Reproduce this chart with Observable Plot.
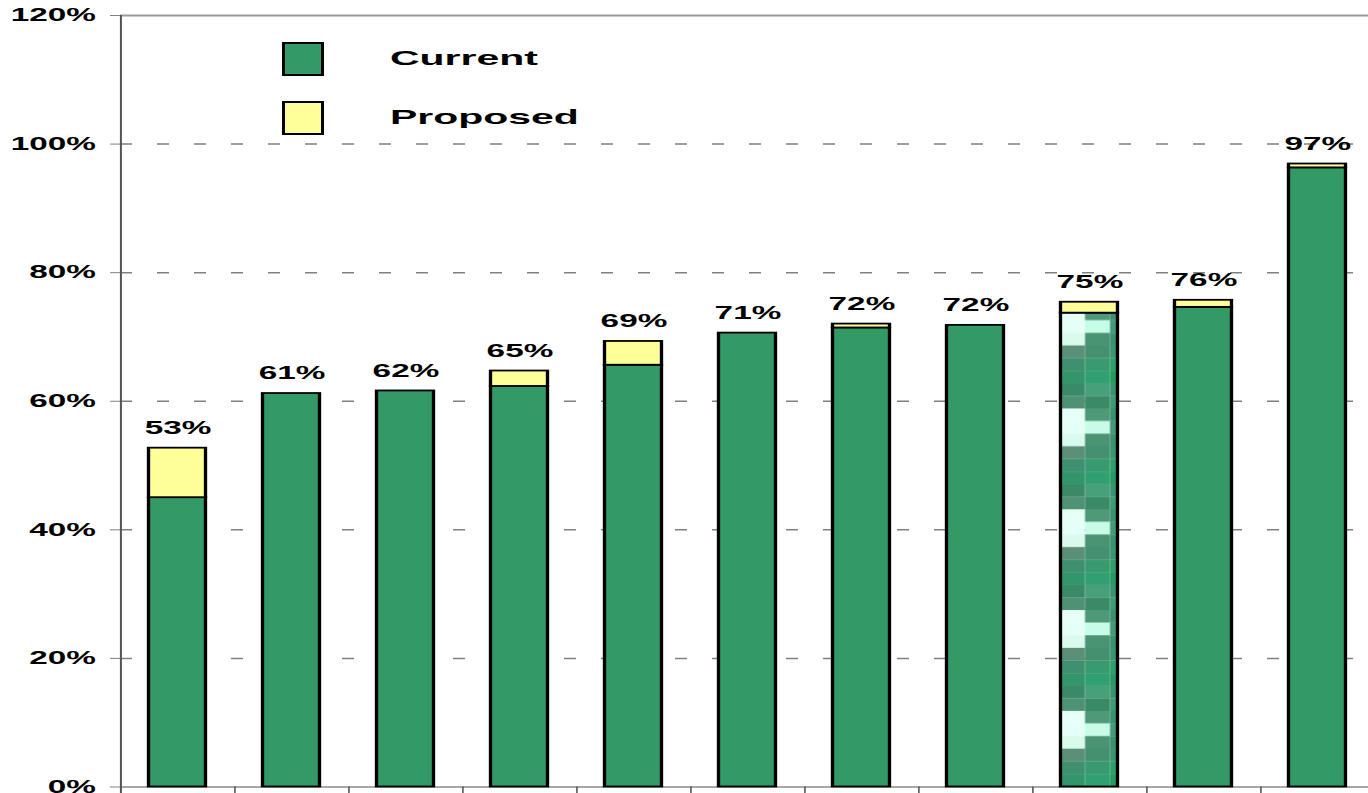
<!DOCTYPE html>
<html><head><meta charset="utf-8">
<script src="https://cdn.jsdelivr.net/npm/d3@7"></script>
<script src="https://cdn.jsdelivr.net/npm/@observablehq/plot@0.6"></script>
<style>
html,body{margin:0;padding:0;background:#fff;overflow:hidden;width:1368px;height:793px}
#wrap{position:relative;width:1380px;height:800px}
#wrap svg{display:block;transform-origin:0 0}
.leg-sw{position:absolute;left:282px;width:36px;height:30px;border-style:solid;border-color:#000;border-width:2.4px 3.2px}
.leg-tx{position:absolute;left:390px;font:bold 21px "Liberation Sans",Arial,sans-serif;transform:scaleX(1.95);transform-origin:0 50%;line-height:21px;white-space:nowrap;color:#000}
</style></head><body><div id="wrap"></div>
<script>
// ---- data ----
const categories = ["1","2","3","4","5","6","7","8","9","10","11"];
const currentValues  = [45.0, 61.2, 61.6, 62.3, 65.6, 70.6, 71.4, 71.8, 73.7, 74.6, 96.3];
const proposedValues = [7.7, 0, 0, 2.4, 3.7, 0, 0.6, 0, 1.7, 1.1, 0.6];
const seriesNames = ["Current", "Proposed"];
const seriesColors = ["#339966", "#FFFF99"];
const yTicks = [0, 20, 40, 60, 80, 100, 120];
const gridTicks = [20, 40, 60, 80, 100];
const patternCategory = "9";

// texture of the 9th bar (rows x 3 columns)
const patternRows = [
  ["#e6fff7","#4e9a78","#3a9070"],
  ["#e4fff8","#c8fbe8","#429a77"],
  ["#dafaee","#4a9472","#3b9070"],
  ["#5b8f77","#449070","#3a9570"],
  ["#3f9070","#389a6e","#2e9e6a"],
  ["#33956a","#31a070","#249a62"],
  ["#3a8a68","#46a07a","#3a9370"],
  ["#4e9275","#3a8a66","#3e9a74"]
];

// ---- tables ----
const rows = [];
categories.forEach((c, i) => {
  rows.push({cat: c, series: "Current", key: c === patternCategory ? "Pattern" : "Current", value: currentValues[i]});
  if (proposedValues[i] > 0) rows.push({cat: c, series: "Proposed", key: "Proposed", value: proposedValues[i]});
});
const totals = categories.map((c, i) => {
  const t = currentValues[i] + proposedValues[i];
  return {cat: c, total: t, label: Math.round(t) + "%"};
});

// the original is drawn horizontally stretched: draw narrow, then stretch the svg
const S = 1.85;
const W = 1380, H = 800, mL = 120, mR = 6, mT = 15, mB = 13.5;
const step = (W - mL - mR) / S / categories.length;
const font = '"Liberation Sans", Arial, sans-serif';

const chart = Plot.plot({
  width: W / S, height: H,
  marginLeft: mL / S, marginRight: mR / S, marginTop: mT, marginBottom: mB,
  style: {fontFamily: font, background: "#fff", overflow: "visible", color: "#000"},
  x: {domain: categories, paddingInner: 0.5, paddingOuter: 0.25, round: false, axis: null},
  y: {domain: [0, 120], axis: null},
  color: {domain: ["Current", "Proposed", "Pattern"], range: [seriesColors[0], seriesColors[1], "url(#bar9pattern)"]},
  marks: [
    Plot.ruleY(gridTicks, {stroke: "#808080", strokeWidth: 1.5, strokeDasharray: "6.5,13.5"}),
    Plot.ruleY([120], {stroke: "#9a9a9a", strokeWidth: 2}),
    Plot.ruleY([0], {stroke: "#a8a8a8", strokeWidth: 2}),
    Plot.ruleX(categories.slice(1), {dx: -step / 2, y1: 0, y2: -2.5, stroke: "#555", strokeWidth: 0.85}),
    Plot.ruleX([categories[0]], {dx: -step / 2, y1: -2.5, y2: 120, stroke: "#555", strokeWidth: 1.1}),
    Plot.axisY({ticks: yTicks, tickSize: 10 / S, tickPadding: 15 / S, tickFormat: d => d + "%", fontSize: 18, fontWeight: "bold", stroke: "#808080", fill: "#000"}),
    Plot.barY(rows, {x: "cat", y: "value", z: "series", fill: "key", stroke: "#000", strokeWidth: 1.8}),
    Plot.text(totals, {x: "cat", y: "total", text: "label", dy: -20, lineAnchor: "middle", fontSize: 18, fontWeight: "bold", fill: "#000"})
  ]
});
chart.style.transform = `scaleX(${S})`;

const wrap = document.getElementById("wrap");
wrap.appendChild(chart);

// pattern for the textured bar, aligned to its rect
const ns = "http://www.w3.org/2000/svg";
const target = chart.querySelector('rect[fill="url(#bar9pattern)"]');
if (target) {
  const bx = +target.getAttribute("x"), by = +target.getAttribute("y");
  const bw = +target.getAttribute("width");
  const rowH = 12.6;
  const colX = [0, 24.5 / S, 49.5 / S, bw];
  const defs = document.createElementNS(ns, "defs");
  const pat = document.createElementNS(ns, "pattern");
  pat.setAttribute("id", "bar9pattern");
  pat.setAttribute("patternUnits", "userSpaceOnUse");
  pat.setAttribute("x", bx);
  pat.setAttribute("y", by - 5);
  pat.setAttribute("width", bw);
  pat.setAttribute("height", rowH * patternRows.length);
  patternRows.forEach((r, ri) => {
    r.forEach((col, ci) => {
      const re = document.createElementNS(ns, "rect");
      re.setAttribute("x", colX[ci]);
      re.setAttribute("y", ri * rowH);
      re.setAttribute("width", colX[ci + 1] - colX[ci]);
      re.setAttribute("height", rowH + 0.2);
      re.setAttribute("fill", col);
      pat.appendChild(re);
    });
  });
  defs.appendChild(pat);
  chart.insertBefore(defs, chart.firstChild);
}

// legend (inside the plot area, top-left)
const legendTops = [42, 101];
const legendTextTops = [46.7, 105.7];
seriesNames.forEach((name, i) => {
  const sw = document.createElement("div");
  sw.className = "leg-sw";
  sw.style.top = legendTops[i] + "px";
  sw.style.background = seriesColors[i];
  wrap.appendChild(sw);
  const tx = document.createElement("div");
  tx.className = "leg-tx";
  tx.style.top = legendTextTops[i] + "px";
  tx.textContent = name;
  wrap.appendChild(tx);
});
</script></body></html>
